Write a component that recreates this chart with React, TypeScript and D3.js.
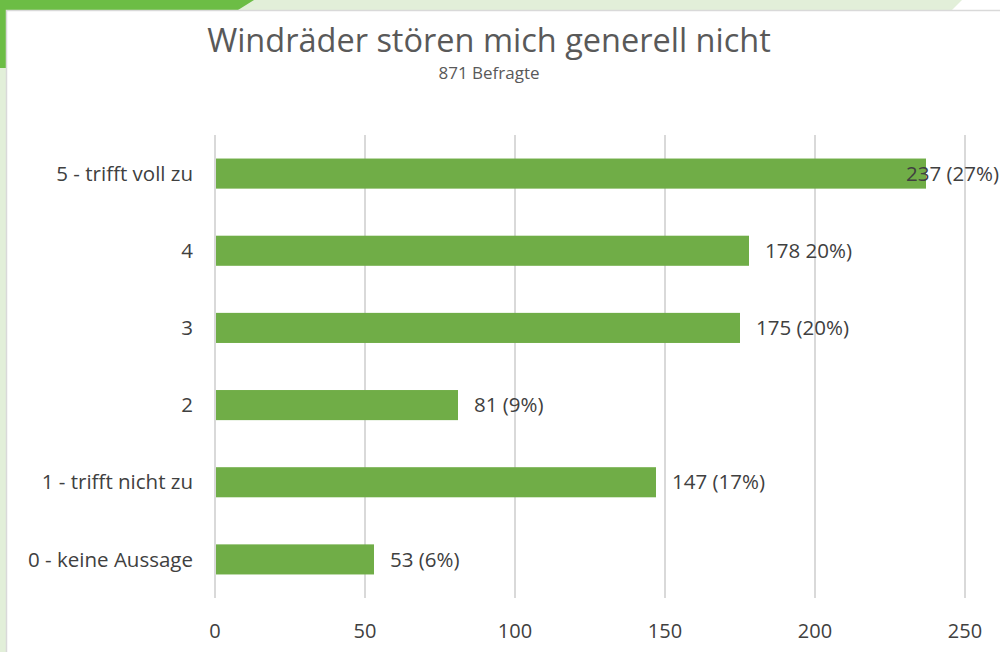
import * as d3 from "d3";
import { useRef, useEffect } from "react";

const categories = [
  "5 - trifft voll zu",
  "4",
  "3",
  "2",
  "1 - trifft nicht zu",
  "0 - keine Aussage",
];
const values = [237, 178, 175, 81, 147, 53];
const valueLabels = ["237 (27%)", "178 20%)", "175 (20%)", "81 (9%)", "147 (17%)", "53 (6%)"];
const xTicks = [0, 50, 100, 150, 200, 250];

const W = 1000;
const H = 652;
const FONT = "'Open Sans', 'Noto Sans', sans-serif";

const App = () => {
  const svgRef = useRef<SVGSVGElement>(null);

  useEffect(() => {
    const svg = d3.select(svgRef.current);
    svg.selectAll("*").remove();

    // frame decoration
    svg.append("rect").attr("x", 0).attr("y", 0).attr("width", W).attr("height", H).attr("fill", "#ffffff");
    svg.append("polygon")
      .attr("points", "240,0 962,0 952,10 228,10")
      .attr("fill", "#e2efd9");
    svg.append("polygon")
      .attr("points", "0,0 254,0 238,10 7,10 7,68 0,68")
      .attr("fill", "#6cbd45");
    svg.append("rect").attr("x", 0).attr("y", 68).attr("width", 6).attr("height", H - 68).attr("fill", "#e2efd9");
    svg.append("rect")
      .attr("x", 6.5).attr("y", 10.5).attr("width", W).attr("height", H)
      .attr("fill", "#ffffff").attr("stroke", "#d9d9d9").attr("stroke-width", 1.5);

    // title
    svg.append("text")
      .attr("x", 489).attr("y", 52)
      .attr("text-anchor", "middle")
      .attr("font-family", FONT).attr("font-size", 32.5)
      .attr("fill", "#595959")
      .text("Windräder stören mich generell nicht");
    svg.append("text")
      .attr("x", 489).attr("y", 79)
      .attr("text-anchor", "middle")
      .attr("font-family", FONT).attr("font-size", 17)
      .attr("fill", "#595959")
      .text("871 Befragte");

    const x = d3.scaleLinear().domain([0, 250]).range([215, 965]);
    const y = d3.scaleBand().domain(categories).range([135, 598]).paddingInner(0.61).paddingOuter(0.305);

    // grid
    svg.append("g")
      .selectAll("line")
      .data(xTicks)
      .enter()
      .append("line")
      .attr("x1", (d) => x(d)).attr("x2", (d) => x(d))
      .attr("y1", 135).attr("y2", 598)
      .attr("stroke", "#d9d9d9").attr("stroke-width", 2);

    // bars
    svg.append("g")
      .selectAll("rect")
      .data(values)
      .enter()
      .append("rect")
      .attr("x", x(0) + 1)
      .attr("y", (d, i) => y(categories[i])!)
      .attr("width", (d) => x(d) - x(0) - 1)
      .attr("height", y.bandwidth())
      .attr("fill", "#70ad47");

    // value labels (pushed back inside the right edge like Excel does)
    svg.append("g")
      .selectAll("text")
      .data(values)
      .enter()
      .append("text")
      .attr("x", (d) => x(d) + 16)
      .attr("y", (d, i) => y(categories[i])! + y.bandwidth() / 2)
      .attr("dy", "0.35em")
      .attr("font-family", FONT).attr("font-size", 20.5)
      .attr("fill", "#404040")
      .text((d, i) => valueLabels[i])
      .each(function (d) {
        const el = this as SVGTextElement;
        const w = el.getComputedTextLength();
        if (x(d) + 16 + w > W - 1) el.setAttribute("x", String(W - 1 - w));
      });

    // category labels
    svg.append("g")
      .selectAll("text")
      .data(categories)
      .enter()
      .append("text")
      .attr("x", 193)
      .attr("y", (d) => y(d)! + y.bandwidth() / 2)
      .attr("dy", "0.35em")
      .attr("text-anchor", "end")
      .attr("font-family", FONT).attr("font-size", 20.5)
      .attr("fill", "#404040")
      .text((d) => d);

    // x tick labels
    svg.append("g")
      .selectAll("text")
      .data(xTicks)
      .enter()
      .append("text")
      .attr("x", (d) => x(d))
      .attr("y", 631)
      .attr("dy", "0.35em")
      .attr("text-anchor", "middle")
      .attr("font-family", FONT).attr("font-size", 20)
      .attr("fill", "#404040")
      .text((d) => d);
  }, []);

  return (
    <div style={{ position: "absolute", left: 0, top: 0, width: W, height: H, overflow: "hidden" }}>
      <svg ref={svgRef} width={W} height={H} />
    </div>
  );
};

export default App;
